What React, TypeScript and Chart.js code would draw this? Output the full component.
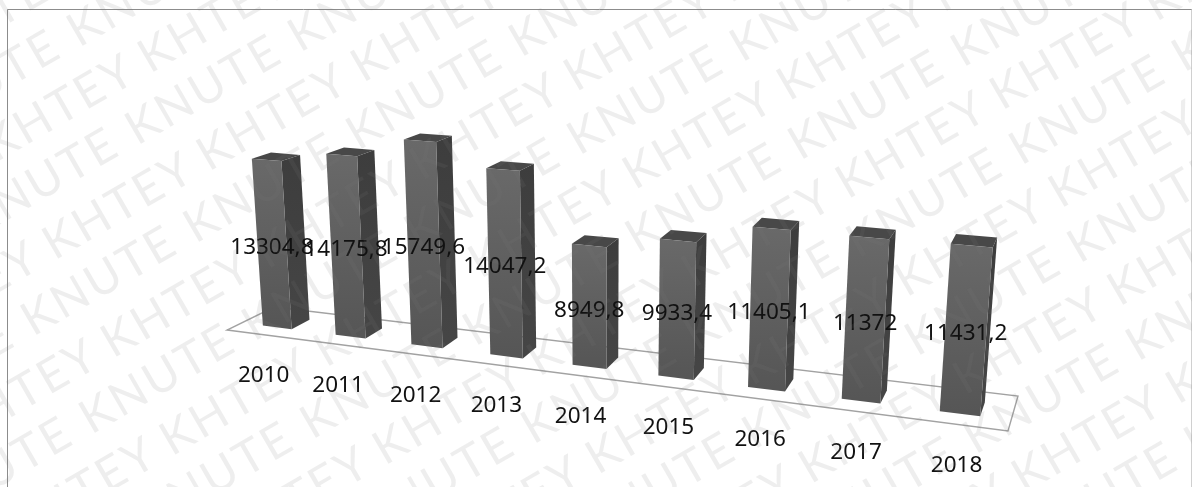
import React, { useEffect, useRef } from "react";
import { Chart, registerables } from "chart.js";

Chart.register(...registerables);

// Yearly series
const years = ["2010", "2011", "2012", "2013", "2014", "2015", "2016", "2017", "2018"];
const amounts = [13304.8, 14175.8, 15749.6, 14047.2, 8949.8, 9933.4, 11405.1, 11372, 11431.2];

// Stamp words tiled over the whole sheet, each word on its own lattice
const stampWords = ["KNUTE", "KHTEY"];
const stampOrigins = [
  [968, 65],
  [1007, 108],
];
const stampAcross = [
  [221, 5],
  [213, 9.25],
];
const stampDown = [
  [58.3, 98],
  [58.7, 98],
];

const WIDTH = 1192;
const HEIGHT = 487;

// Floor plane of the 3D scene: front-left, front-right, back-right, back-left
const FL = [227, 330];
const FR = [1008, 431];
const BR = [1018, 396];
const BL = [274, 307];

// Perspective along the category direction, and bar depth on the floor
const PERSPECTIVE = 0.825;
const DEPTH_FRONT = 0.31;
const DEPTH_BACK = 0.71;

const lerp = (a: number[], b: number[], t: number) => [a[0] + (b[0] - a[0]) * t, a[1] + (b[1] - a[1]) * t];

function floorPoint(u: number, w: number) {
  const f = (PERSPECTIVE * u) / (1 - (1 - PERSPECTIVE) * u);
  return lerp(lerp(FL, FR, f), lerp(BL, BR, f), w);
}

// Projects a scene point (category fraction, value, depth) to the canvas.
function project(u: number, value: number, w: number) {
  const [bx, by] = floorPoint(u, w);
  const pxPerUnit = (0.01255 + (bx - 264) * 3.1e-6) * (1 - (0.024 * (w - DEPTH_FRONT)) / (DEPTH_BACK - DEPTH_FRONT));
  const h = value * pxPerUnit;
  return [bx + (bx - 602) * 0.000195 * h, by - h];
}

function poly(ctx: CanvasRenderingContext2D, pts: number[][], fill: string | CanvasGradient) {
  ctx.beginPath();
  pts.forEach((p, i) => (i ? ctx.lineTo(p[0], p[1]) : ctx.moveTo(p[0], p[1])));
  ctx.closePath();
  ctx.fillStyle = fill;
  ctx.fill();
}

const scene3d = {
  id: "scene3d",
  beforeDraw(chart: any) {
    const ctx = chart.ctx as CanvasRenderingContext2D;
    ctx.save();
    ctx.fillStyle = "#ffffff";
    ctx.fillRect(0, 0, WIDTH, HEIGHT);
    // Sheet frame
    ctx.strokeStyle = "#8c8c8c";
    ctx.lineWidth = 1;
    ctx.beginPath();
    ctx.moveTo(7.5, HEIGHT);
    ctx.lineTo(7.5, 9.5);
    ctx.lineTo(WIDTH, 9.5);
    ctx.stroke();
    ctx.strokeStyle = "#d0d0d0";
    ctx.beginPath();
    ctx.moveTo(1191.5, 9.5);
    ctx.lineTo(1191.5, HEIGHT);
    ctx.stroke();
    // Floor outline
    ctx.strokeStyle = "#a2a2a2";
    ctx.lineWidth = 1.4;
    ctx.beginPath();
    ctx.moveTo(FL[0], FL[1]);
    ctx.lineTo(FR[0], FR[1]);
    ctx.lineTo(BR[0], BR[1]);
    ctx.lineTo(BL[0], BL[1]);
    ctx.closePath();
    ctx.stroke();
    ctx.restore();
  },
  afterDatasetsDraw(chart: any) {
    const ctx = chart.ctx as CanvasRenderingContext2D;
    const xs = chart.scales.x;
    const ys = chart.scales.y;
    const meta = chart.getDatasetMeta(0);
    const span = xs.right - xs.left;
    ctx.save();

    meta.data.forEach((bar: any) => {
      const { x, y, width } = bar.getProps(["x", "y", "width"], true);
      const value = ys.getValueForPixel(y);
      const u0 = (x - width / 2 - xs.left) / span;
      const u1 = (x + width / 2 - xs.left) / span;
      const a0 = project(u0, 0, DEPTH_FRONT);
      const b0 = project(u1, 0, DEPTH_FRONT);
      const c0 = project(u1, 0, DEPTH_BACK);
      const a1 = project(u0, value, DEPTH_FRONT);
      const b1 = project(u1, value, DEPTH_FRONT);
      const c1 = project(u1, value, DEPTH_BACK);
      const d1 = project(u0, value, DEPTH_BACK);

      const side = ctx.createLinearGradient(0, c1[1], 0, c0[1]);
      side.addColorStop(0, "#3d3d3d");
      side.addColorStop(1, "#454545");
      poly(ctx, [b0, c0, c1, b1], side);
      poly(ctx, [a1, b1, c1, d1], "#484848");
      const front = ctx.createLinearGradient(0, a1[1], 0, a0[1]);
      front.addColorStop(0, "#696969");
      front.addColorStop(1, "#565656");
      poly(ctx, [a0, b0, b1, a1], front);
    });

    // Year labels below the front edge of the floor, value labels at mid height
    ctx.fillStyle = "#111111";
    ctx.font = '22.5px "Noto Sans", sans-serif';
    ctx.textAlign = "center";
    ctx.textBaseline = "middle";
    meta.data.forEach((bar: any, i: number) => {
      const { x, y } = bar.getProps(["x", "y"], true);
      const u = (x - xs.left) / span;
      const value = ys.getValueForPixel(y);
      const [lx, ly] = floorPoint(u, 0);
      ctx.fillText(chart.data.labels[i], lx + 0.5, ly + 41);
      const [vx, vy] = project(u, value / 2, DEPTH_FRONT);
      ctx.fillText(String(amounts[i]).replace(".", ","), vx, vy + 4);
    });

    // Repeating stamp over everything
    ctx.fillStyle = "rgba(120,120,120,0.13)";
    ctx.font = '47px Lato, "Open Sans", sans-serif';
    (ctx as any).letterSpacing = "3px";
    ctx.textAlign = "left";
    ctx.textBaseline = "alphabetic";
    stampWords.forEach((word, k) => {
      for (let n = -8; n <= 8; n++) {
        for (let m = -8; m <= 8; m++) {
          const sx = stampOrigins[k][0] + n * stampAcross[k][0] + m * stampDown[k][0];
          const sy = stampOrigins[k][1] + n * stampAcross[k][1] + m * stampDown[k][1];
          if (sx < -200 || sx > WIDTH + 20 || sy < -20 || sy > HEIGHT + 200) continue;
          ctx.save();
          ctx.translate(sx - 5, sy + 3);
          ctx.rotate((-30 * Math.PI) / 180);
          ctx.fillText(word, 0, 0);
          ctx.restore();
        }
      }
    });
    ctx.restore();
  },
};

export default function App() {
  const ref = useRef<HTMLCanvasElement>(null);
  useEffect(() => {
    if (!ref.current) return;
    const chart = new Chart(ref.current, {
      type: "bar",
      data: {
        labels: years,
        datasets: [
          {
            label: "Amount",
            data: amounts,
            backgroundColor: "rgba(0,0,0,0)",
            borderWidth: 0,
            barPercentage: 0.4,
            categoryPercentage: 1,
          },
        ],
      },
      options: {
        responsive: false,
        animation: false,
        layout: { padding: 0 },
        plugins: { legend: { display: false }, title: { display: false }, tooltip: { enabled: false } },
        scales: {
          x: { type: "category", display: false },
          y: { type: "linear", display: false, min: 0, max: 20000 },
        },
      },
      plugins: [scene3d],
    });
    return () => chart.destroy();
  }, []);
  return (
    <canvas
      ref={ref}
      width={WIDTH}
      height={HEIGHT}
      style={{ position: "fixed", left: 0, top: 0, display: "block" }}
    />
  );
}
